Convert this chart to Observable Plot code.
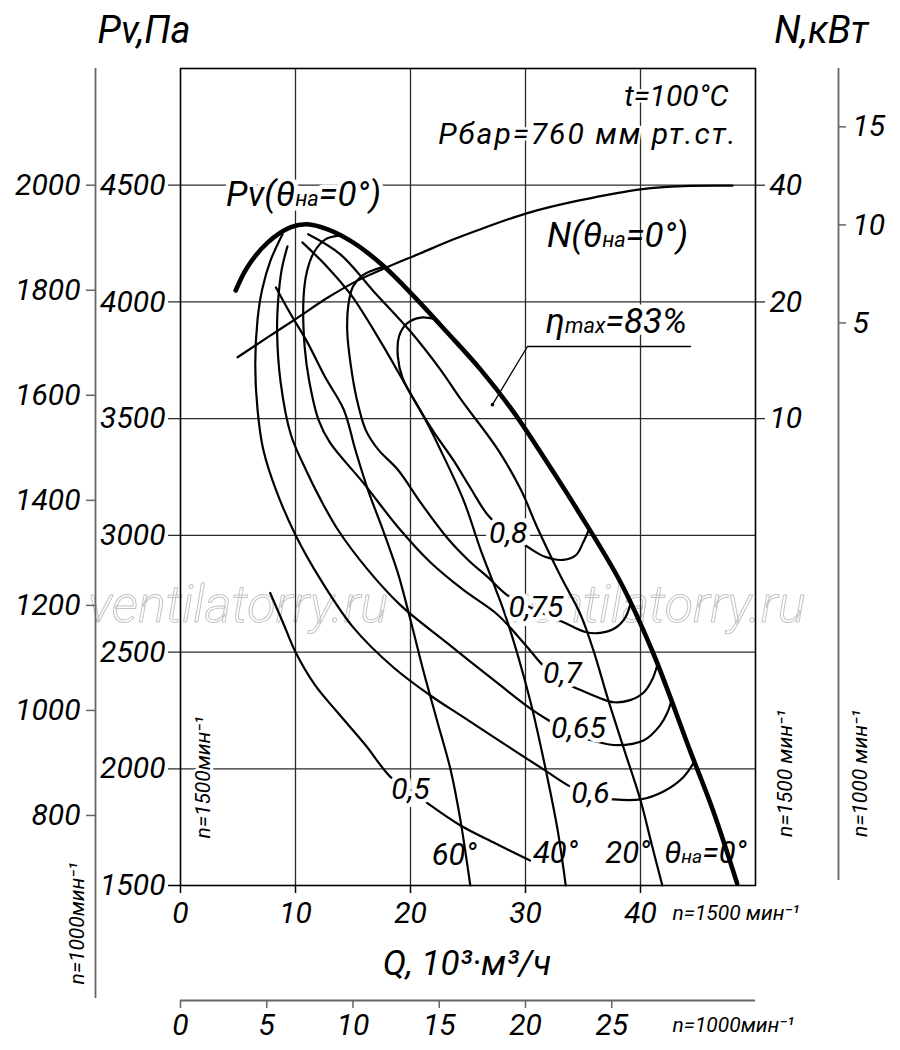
<!DOCTYPE html>
<html><head><meta charset="utf-8">
<script src="https://cdn.jsdelivr.net/npm/d3@7"></script>
<script src="https://cdn.jsdelivr.net/npm/@observablehq/plot@0.6"></script>
<style>
html,body{margin:0;padding:0;background:#fff;}
#chart svg text{font-family:Roboto,"Noto Sans",sans-serif;font-style:italic;}
</style></head><body><div id="chart"></div>
<script>
// ---- axis ticks ----
const pvTicks = [1500, 2000, 2500, 3000, 3500, 4000, 4500];      // Pv, Па at n=1500
const pvGrid = [2000, 2500, 3000, 3500, 4000, 4500];
const pv1000Ticks = [800, 1000, 1200, 1400, 1600, 1800, 2000];   // Pv, Па at n=1000
const qTicks = [0, 10, 20, 30, 40];                              // Q at n=1500
const qGrid = [10, 20, 30, 40];
const q1000Ticks = [0, 5, 10, 15, 20, 25];                       // Q at n=1000
const nTicks = [40, 20, 10];                                     // N, кВт at n=1500 (log)
const n1000Ticks = [15, 10, 5];                                  // N, кВт at n=1000

// ---- pressure curves by guide vane angle ----
const theta0Q  = [4.8,5.8,7.6,9.6,11.0,12.8,15.0,17.7,20.3,23.2,26.1,29.0,31.9,34.5,38.3,41.1,44.3,46.3,48.4];
const theta0Pv = [4049,4148,4255,4320,4333,4311,4255,4152,4024,3869,3710,3526,3311,3110,2796,2496,2079,1822,1509];
const theta20Q  = [11.1,13.9,16.8,20.0,22.6,24.4,27.6,29.6,31.0,33.0,34.8,35.9,37.2,38.6,40.0,41.0,41.9];
const theta20Pv = [4290,4204,4045,3873,3710,3581,3367,3195,3036,2830,2659,2508,2294,2079,1865,1671,1500];
const theta40Q  = [10.6,12.8,14.8,17.4,19.7,21.3,22.6,24.6,26.1,27.2,28.3,30.4,31.9,32.8,33.5];
const theta40Pv = [4255,4148,4032,3830,3633,3495,3367,3152,2938,2796,2650,2294,1963,1736,1500];
const theta60Q  = [8.3,9.6,11.0,12.6,14.2,15.2,16.3,17.7,18.9,20.0,21.1,22.3,23.5,24.3,25.2];
const theta60Pv = [4062,3946,3830,3676,3538,3367,3195,3010,2839,2637,2423,2208,1993,1792,1500];

// ---- efficiency curves ----
const eta80Q  = [22.2,20.9,19.7,19.0,18.9,19.3,20.4,22.0,23.7,25.2,26.7,28.3,30.2,31.7,33.3,34.4,35.0,35.5];
const eta80Pv = [3925,3933,3908,3852,3766,3676,3573,3444,3324,3204,3088,3010,2950,2908,2895,2916,2968,3023];
const eta75Q  = [17.65,16.7,15.8,15.0,14.6,14.5,14.8,15.3,16.1,17.2,18.9,20.9,23.2,25.2,26.7,28.4,30.9,33.3,35.2,36.5,37.8,38.7,39.15];
const eta75Pv = [4150,4135,4113,4066,3989,3873,3731,3590,3452,3367,3281,3139,2989,2886,2822,2744,2680,2628,2586,2582,2603,2650,2712];
const eta70Q  = [13.9,12.6,11.6,11.0,10.7,10.8,11.2,12.0,13.0,15.9,18.9,21.7,24.6,27.6,30.0,31.5,33.0,34.8,36.5,37.7,39.1,40.3,41.0,41.5];
const eta70Pv = [4285,4268,4212,4131,4019,3805,3659,3495,3397,3225,3036,2886,2766,2659,2530,2444,2380,2337,2302,2285,2294,2328,2380,2450];
const eta65Q  = [9.3,8.8,8.5,8.4,8.7,9.6,10.9,12.2,13.7,16.3,19.1,23.2,27.8,30.4,32.0,33.9,35.7,38.0,40.3,41.7,42.35,42.7];
const eta65Pv = [4238,4139,4011,3873,3659,3431,3281,3152,3023,2852,2702,2538,2358,2259,2208,2152,2122,2101,2122,2186,2242,2295];
const eta60Q  = [8.87,7.8,7.1,6.7,6.5,6.7,7.2,8.3,10.0,12.2,15.0,18.5,21.7,24.6,29.0,31.7,33.7,35.65,37.65,40.0,42.0,43.7,44.7];
const eta60Pv = [4290,4174,4053,3925,3731,3538,3367,3195,3002,2809,2607,2435,2315,2221,2079,1993,1929,1886,1869,1869,1903,1963,2032];
const eta50Q  = [7.8,8.9,10.0,11.7,13.65,16.1,18.3,20.0,21.5,24.35,27.4,30.4];
const eta50Pv = [2753,2628,2500,2358,2242,2101,1963,1908,1852,1757,1680,1607];

// ---- power curve N (kW, n=1500) ----
const powerQ = [4.96,7.57,10.17,12.78,15.39,18.0,20.87,23.48,26.09,30.17,34.78,40.17,43.74,48.0];
const powerN = [14.4,16.2,18.2,20.5,22.7,24.6,26.7,28.8,30.8,33.9,36.6,39.1,39.8,39.9];

// ---- annotations ----
const effLabels = [
  {t: "0,8", q: 28.5, pv: 3010}, {t: "0,75", q: 30.9, pv: 2693}, {t: "0,7", q: 33.2, pv: 2410},
  {t: "0,65", q: 34.6, pv: 2174}, {t: "0,6", q: 35.65, pv: 1895}, {t: "0,5", q: 20.0, pv: 1912}
];
const angleLabels = [
  {t: "60°", q: 23.8, pv: 1629}, {t: "40°", q: 32.6, pv: 1637},
  {t: "20°", q: 38.9, pv: 1637}, {t: "θ{на}=0°", q: 45.65, pv: 1637}
];
const curveLabels = [
  {t: "Pv(θ{на}=0°)", q: 10.7, pv: 4457, halo: true},
  {t: "N(θ{на}=0°)", q: 38.0, pv: 4285, halo: false},
  {t: "η{max}=83%", q: 37.9, pv: 3916, halo: true}
];
const condLabels = [
  {t: "t=100°C", q: 47.65, pv: 4882},
  {t: "Рбар=760 мм рт.ст.", q: 48.43, pv: 4719}
];
const leader = [{q: 44.35, pv: 3809}, {q: 30.17, pv: 3809}, {q: 27.13, pv: 3560}];
const watermarks = [{t: "ventilatorry.ru", q: 5.0, pv: 2700}, {t: "ventilatorry.ru", q: 41.3, pv: 2700}];

// ---- build tables ----
const toRows = (id, Q, P) => Q.map((q, i) => ({id, q, pv: P[i]}));
const thinRows = [
  ...toRows("20", theta20Q, theta20Pv), ...toRows("40", theta40Q, theta40Pv), ...toRows("60", theta60Q, theta60Pv),
  ...toRows("0.8", eta80Q, eta80Pv), ...toRows("0.75", eta75Q, eta75Pv), ...toRows("0.7", eta70Q, eta70Pv),
  ...toRows("0.65", eta65Q, eta65Pv), ...toRows("0.6", eta60Q, eta60Pv), ...toRows("0.5", eta50Q, eta50Pv)
];
const thickRows = toRows("0", theta0Q, theta0Pv);
const nToY = n => 4500 + 500 * Math.log2(n / 40);       // log N axis sharing the Pv frame
const n1000ToY = n => 3490 + 84 * n;                     // outer N axis (n=1000)
const powerRows = powerQ.map((q, i) => ({q, pv: nToY(powerN[i])}));

const GRID = "#2a2a2a", OUT = "#666";
const str = d => String(d);
const halo = (data, o, w = 8) => [
  Plot.text(data, {...o, fill: "white", stroke: "white", strokeWidth: w, strokeLinejoin: "round"}),
  Plot.text(data, o)
];
const mid = {textAnchor: "middle", lineAnchor: "middle"};

const chart = Plot.plot({
  width: 900, height: 1050,
  marginLeft: 180, marginRight: 145, marginTop: 68, marginBottom: 165,
  x: {domain: [0, 50], axis: null},
  y: {domain: [1500, 5000], axis: null},
  style: {background: "white", overflow: "visible"},
  marks: [
    // watermark
    Plot.text(watermarks, {x: "q", y: "pv", text: "t", fontSize: 52, fontWeight: 300, fill: "none", stroke: "#c4c4c4", strokeWidth: 1}),
    // grid
    Plot.ruleX(qGrid, {x: d => d, stroke: GRID, strokeWidth: 1.3}),
    Plot.ruleY(pvGrid, {y: d => d, stroke: GRID, strokeWidth: 1.3, insetLeft: -12}),
    Plot.ruleY([1500], {y: d => d, stroke: "#000", strokeWidth: 1.5, insetLeft: -12, insetRight: 575}),
    Plot.ruleY(nTicks, {y: nToY, stroke: GRID, strokeWidth: 1.3, insetLeft: 575, insetRight: -10}),
    Plot.ruleX(qTicks, {x: d => d, stroke: "#000", strokeWidth: 1.5, insetTop: 817, insetBottom: -8}),
    Plot.frame({stroke: "#000", strokeWidth: 1.6}),
    // outer axes (n=1000)
    Plot.ruleX([0], {x: d => d, dx: -85, insetBottom: -113, stroke: OUT, strokeWidth: 1.8}),
    Plot.ruleY(pv1000Ticks, {y: d => d * 9 / 4, insetLeft: -94, insetRight: 660, stroke: OUT, strokeWidth: 1.5}),
    Plot.ruleY([1500], {y: d => d, dy: 115, stroke: OUT, strokeWidth: 1.8}),
    Plot.ruleX(q1000Ticks, {x: d => d * 1.5, insetTop: 932, insetBottom: -123, stroke: OUT, strokeWidth: 1.5}),
    Plot.ruleX([50], {x: d => d, dx: 83, insetBottom: 5, stroke: OUT, strokeWidth: 1.8}),
    Plot.ruleY(n1000Ticks, {y: n1000ToY, insetLeft: 658, insetRight: -91, stroke: OUT, strokeWidth: 1.5}),
    // curves
    Plot.line(powerRows, {x: "q", y: "pv", curve: "catmull-rom", stroke: "#000", strokeWidth: 2.2}),
    Plot.line(thinRows, {x: "q", y: "pv", z: "id", curve: "catmull-rom", stroke: "#000", strokeWidth: 2.2}),
    Plot.line(thickRows, {x: "q", y: "pv", curve: "catmull-rom", stroke: "#000", strokeWidth: 4.6}),
    Plot.line(leader, {x: "q", y: "pv", stroke: "#000", strokeWidth: 1.3}),
    Plot.dot(leader.slice(2), {x: "q", y: "pv", r: 1.8, fill: "#000"}),
    // in-plot labels
    ...halo(effLabels, {x: "q", y: "pv", text: "t", fontSize: 30}, 9),
    Plot.text(angleLabels, {x: "q", y: "pv", text: "t", fontSize: 31}),
    ...halo(curveLabels.filter(d => d.halo), {x: "q", y: "pv", text: "t", fontSize: 35}, 9),
    Plot.text(curveLabels.filter(d => !d.halo), {x: "q", y: "pv", text: "t", fontSize: 35}),
    ...halo(condLabels, {x: "q", y: "pv", text: "t", fontSize: 30, textAnchor: "end"}, 5),
    // tick labels
    Plot.text(pvTicks, {y: d => d, text: str, frameAnchor: "left", dx: -15, textAnchor: "end", lineAnchor: "middle", fontSize: 30}),
    Plot.text(pv1000Ticks, {y: d => d * 9 / 4, text: str, frameAnchor: "left", dx: -100, textAnchor: "end", lineAnchor: "middle", fontSize: 30}),
    Plot.text(qTicks, {x: d => d, text: str, frameAnchor: "bottom", dy: 28, ...mid, fontSize: 30}),
    Plot.text(q1000Ticks, {x: d => d * 1.5, text: str, frameAnchor: "bottom", dy: 140, ...mid, fontSize: 30}),
    Plot.text(nTicks, {y: nToY, text: str, frameAnchor: "right", dx: 14, textAnchor: "start", lineAnchor: "middle", fontSize: 30}),
    Plot.text(n1000Ticks, {y: n1000ToY, text: str, frameAnchor: "right", dx: 97, textAnchor: "start", lineAnchor: "middle", fontSize: 30}),
    // axis titles & speed notes
    Plot.text(["Pv,Па"], {text: str, frameAnchor: "top-left", dx: -83, dy: -38, textAnchor: "start", lineAnchor: "middle", fontSize: 38}),
    Plot.text(["N,кВт"], {text: str, frameAnchor: "top-right", dx: 113, dy: -38, textAnchor: "end", lineAnchor: "middle", fontSize: 38}),
    Plot.text(["Q, 10³·м³/ч"], {text: str, frameAnchor: "bottom", dx: -1, dy: 78, ...mid, fontSize: 35}),
    Plot.text(["n=1500 мин⁻¹"], {text: str, frameAnchor: "bottom-right", dx: -83, dy: 28, textAnchor: "start", lineAnchor: "middle", fontSize: 21}),
    Plot.text(["n=1000мин⁻¹"], {text: str, frameAnchor: "bottom-right", dx: -83, dy: 140, textAnchor: "start", lineAnchor: "middle", fontSize: 21}),
    Plot.text(["n=1000мин⁻¹"], {text: str, frameAnchor: "bottom-left", dx: -103, dy: 38, rotate: -90, ...mid, fontSize: 21}),
    ...halo(["n=1500мин⁻¹"], {text: str, frameAnchor: "bottom-left", dx: 23, dy: -108, rotate: -90, ...mid, fontSize: 21}, 6),
    Plot.text(["n=1500 мин⁻¹"], {text: str, frameAnchor: "bottom-right", dx: 30, dy: -112, rotate: -90, ...mid, fontSize: 21}),
    Plot.text(["n=1000 мин⁻¹"], {text: str, frameAnchor: "bottom-right", dx: 105, dy: -112, rotate: -90, ...mid, fontSize: 21})
  ]
});

// small inline letters written as {..}; wider spacing for the pressure note
const NS = "http://www.w3.org/2000/svg";
for (const t of chart.querySelectorAll("text")) {
  const s = t.textContent;
  if (s.startsWith("Рбар")) t.setAttribute("letter-spacing", "2");
  if (!s.includes("{")) continue;
  t.textContent = "";
  for (const p of s.split(/(\{[^}]*\})/)) {
    if (!p) continue;
    const ts = document.createElementNS(NS, "tspan");
    if (p[0] === "{") { ts.textContent = p.slice(1, -1); ts.setAttribute("font-size", "0.62em"); }
    else ts.textContent = p;
    t.appendChild(ts);
  }
}
document.getElementById("chart").appendChild(chart);
</script>
</body></html>
